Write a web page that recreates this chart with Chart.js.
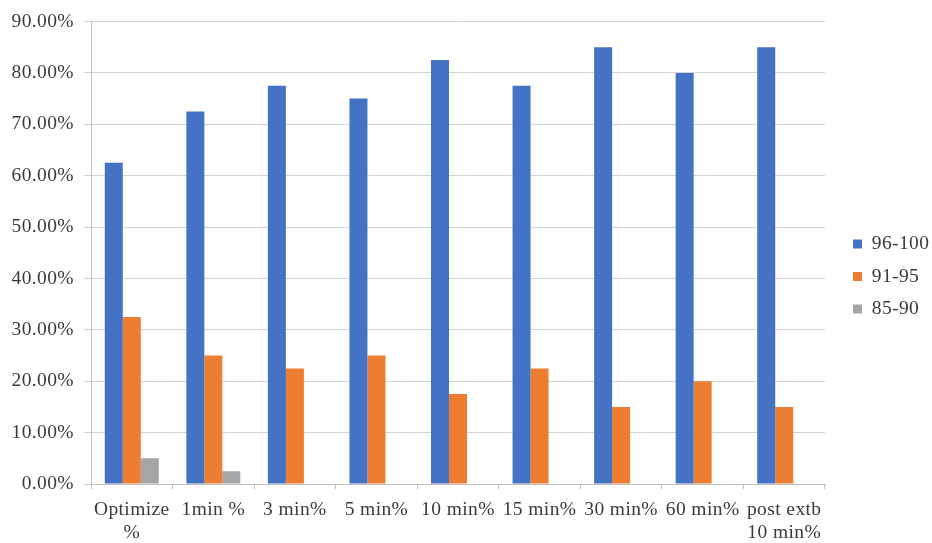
<!DOCTYPE html>
<html>
<head>
<meta charset="utf-8">
<script src="https://cdn.jsdelivr.net/npm/chart.js@4/dist/chart.umd.min.js"></script>
<style>
  html, body { margin: 0; padding: 0; background: #ffffff; }
  #wrap { width: 932px; height: 543px; }
</style>
</head>
<body>
<div id="wrap"><canvas id="c" width="932" height="543"></canvas></div>
<script>
// Categories (multi-line labels as arrays)
const categories = [
  ['Optimize', '%'], '1min %', '3 min%', '5 min%', '10 min%',
  '15 min%', '30 min%', '60 min%', ['post extb', '10 min%']
];

// Share of readings per range, in percent
const range96to100 = [62.5, 72.5, 77.5, 75, 82.5, 77.5, 85, 80, 85];
const range91to95  = [32.5, 25, 22.5, 25, 17.5, 22.5, 15, 20, 15];
const range85to90  = [5, 2.5, 0, 0, 0, 0, 0, 0, 0];

const seriesNames = ['96-100', '91-95', '85-90'];
const yMin = 0, yMax = 90, yStep = 10;

const FONT = { family: '"Liberation Serif", "Times New Roman", serif', size: 19.5, lineHeight: 1.18 };
const TEXT = '#3a3a3a';
const LEGEND_WIDTH = 107;

// Slightly looser letter spacing for all canvas text
function applySpacing(chart) { chart.ctx.letterSpacing = '0.4px'; }

const textSpacing = {
  id: 'textSpacing',
  beforeInit: applySpacing,
  beforeUpdate: applySpacing,
  beforeLayout: applySpacing,
  beforeDraw: applySpacing
};

// Fixed legend column at the right, items nudged toward the edge
const legendPlacement = {
  id: 'legendPlacement',
  afterInit(chart) {
    const lg = chart.legend;
    const fit = lg.fit;
    lg.fit = function () { fit.call(this); this.width = LEGEND_WIDTH; };
  },
  afterLayout(chart) {
    const lg = chart.legend;
    lg.left += 15;
    lg.right += 15;
    lg.top -= 3;
    lg.bottom -= 3;
  }
};

new Chart(document.getElementById('c'), {
  type: 'bar',
  data: {
    labels: categories,
    datasets: [
      { label: seriesNames[0], data: range96to100, backgroundColor: '#4472C4' },
      { label: seriesNames[1], data: range91to95,  backgroundColor: '#ED7D31' },
      { label: seriesNames[2], data: range85to90,  backgroundColor: '#A5A5A5' }
    ]
  },
  options: {
    responsive: false,
    animation: false,
    devicePixelRatio: 1,
    layout: { padding: { top: 16, left: 10, right: 0, bottom: 0 } },
    datasets: { bar: { categoryPercentage: 0.662, barPercentage: 1.0, borderWidth: 0 } },
    scales: {
      x: {
        offset: true,
        grid: { display: true, offset: true, drawOnChartArea: false, drawTicks: true, tickLength: 5, color: '#bfbfbf' },
        border: { display: true, color: '#bfbfbf', width: 1 },
        ticks: { font: FONT, color: TEXT, padding: 9, maxRotation: 0, autoSkip: false },
        afterFit(scale) { scale.height = 59; }
      },
      y: {
        min: yMin, max: yMax,
        grid: { color: '#d4d4d4', lineWidth: 1, tickLength: 7, drawTicks: true },
        border: { display: true, color: '#bfbfbf', width: 1 },
        ticks: {
          stepSize: yStep, font: FONT, color: TEXT, padding: 10,
          callback: v => v.toFixed(2) + '%'
        },
        afterFit(scale) { scale.width = 81; }
      }
    },
    plugins: {
      legend: {
        position: 'right',
        labels: { boxWidth: 9, boxHeight: 9, padding: 13, font: FONT, color: TEXT }
      },
      tooltip: { enabled: false }
    }
  },
  plugins: [textSpacing, legendPlacement]
});
</script>
</body>
</html>
